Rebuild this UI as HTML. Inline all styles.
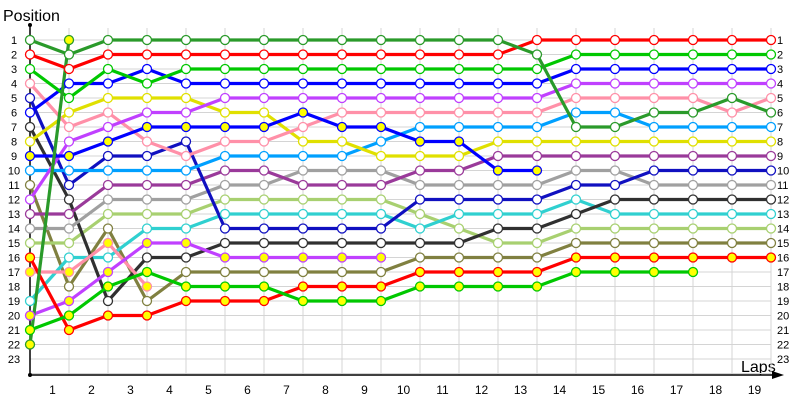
<!DOCTYPE html>
<html><head><meta charset="utf-8"><style>
html,body{margin:0;padding:0;background:#fff;}
svg{display:block;font-family:"Liberation Sans",sans-serif;}
</style></head><body>
<svg id="c" width="800" height="400" viewBox="0 0 800 400" xmlns="http://www.w3.org/2000/svg">
<text x="3" y="21" font-size="16" fill="#000">Position</text>
<text x="741" y="372" font-size="16" fill="#000">Laps</text>
</svg>
<script>
var s=document.getElementById('c'),NS='http://www.w3.org/2000/svg';
function X(k){return 30+39.0*k;}function Y(p){return 40+(p-1)*14.5;}
function el(n,a,t){var e=document.createElementNS(NS,n);for(var k in a)e.setAttribute(k,a[k]);if(t!=null)e.textContent=t;s.appendChild(e);return e;}
// grid
for(var p=1;p<=23;p++)el('line',{x1:30,x2:X(19),y1:Y(p),y2:Y(p),stroke:'#d4d4d4','stroke-width':1});
el('line',{x1:30,x2:X(19),y1:Y(23)+14.5,y2:Y(23)+14.5,stroke:'#d4d4d4','stroke-width':1});
for(var k=1;k<=19;k++)el('line',{x1:X(k),x2:X(k),y1:28,y2:375,stroke:'#d4d4d4','stroke-width':1});
// axes
el('line',{x1:30,x2:30,y1:25,y2:376,stroke:'#000','stroke-width':1.5});
el('line',{x1:30,x2:776,y1:375,y2:375,stroke:'#000','stroke-width':1.5});
el('polygon',{points:'784,375 772,371 772,379',fill:'#000'});
el('circle',{cx:30,cy:25,r:2,fill:'#000'});el('circle',{cx:30,cy:375,r:2,fill:'#000'});
for(var p=1;p<=23;p++){el('text',{x:14,y:Y(p)+4,'font-size':11,'text-anchor':'middle'},p);el('text',{x:777,y:Y(p)+4,'font-size':11},p);}
for(var n=1;n<=19;n++)el('text',{x:X(n)-19.5+3,y:394,'font-size':12,'text-anchor':'middle'},n);
var S=[
['#808040',[11,18,14,19,17,17,17,17,17,17,16,16,16,16,15,15,15,15,15,15],0],
['#a8d070',[15,15,13,13,13,12,12,12,12,12,13,14,15,15,14,14,14,14,14,14],0],
['#30d0d0',[19,16,16,14,14,13,13,13,13,13,14,13,13,13,12,13,13,13,13,13],0],
['#303030',[7,12,19,16,16,15,15,15,15,15,15,15,14,14,13,12,12,12,12,12],0],
['#a0a0a0',[14,14,12,12,12,11,11,10,10,10,11,11,11,11,10,10,11,11,11,11],0],
['#9a3a9a',[13,13,11,11,11,10,10,11,11,11,10,10,9,9,9,9,9,9,9,9],0],
['#ff90a8',[17,17,15,18],1],
['#c040ff',[20,19,17,15,15,16,16,16,16,16],1],
['#ff0000',[16,21,20,20,19,19,19,18,18,18,17,17,17,17,16,16,16,16,16,16],1],
['#00c800',[21,20,18,17,18,18,18,19,19,19,18,18,18,18,17,17,17,17],1],
['#1010c0',[5,11,9,9,8,14,14,14,14,14,12,12,12,12,11,11,10,10,10,10],0],
['#00a0ff',[10,10,10,10,10,9,9,9,9,8,7,7,7,7,6,6,7,7,7,7],0],
['#e0e000',[8,6,5,5,5,6,6,8,8,9,9,9,8,8,8,8,8,8,8,8],0],
['#ff90a8',[4,7,6,8,9,8,8,7,6,6,6,6,6,6,5,5,5,5,6,5],0],
['#c040ff',[12,8,7,6,6,5,5,5,5,5,5,5,5,5,4,4,4,4,4,4],0],
['#0000ff',[9,9,8,7,7,7,7,6,7,7,8,8,10,10],1],
['#0000ff',[6,4,4,3,4,4,4,4,4,4,4,4,4,4,3,3,3,3,3,3],0],
['#00c800',[3,5,3,4,3,3,3,3,3,3,3,3,3,3,2,2,2,2,2,2],0],
['#ff0000',[2,3,2,2,2,2,2,2,2,2,2,2,2,1,1,1,1,1,1,1],0],
['#2a9a2a',[1,2,1,1,1,1,1,1,1,1,1,1,1,2,7,7,6,6,5,6],0],
['#2a9a2a',[22,1],1]
];
S.forEach(function(a){var pts=a[1].map(function(p,k){return X(k)+','+Y(p);}).join(' ');
el('polyline',{points:pts,fill:'none',stroke:a[0],'stroke-width':3.2,'stroke-linejoin':'round'});});
S.forEach(function(a){a[1].forEach(function(p,k){el('circle',{cx:X(k),cy:Y(p),r:4.5,fill:a[2]?'#ffff00':'#fff',stroke:a[0],'stroke-width':1.3});});});
</script>
</body></html>
